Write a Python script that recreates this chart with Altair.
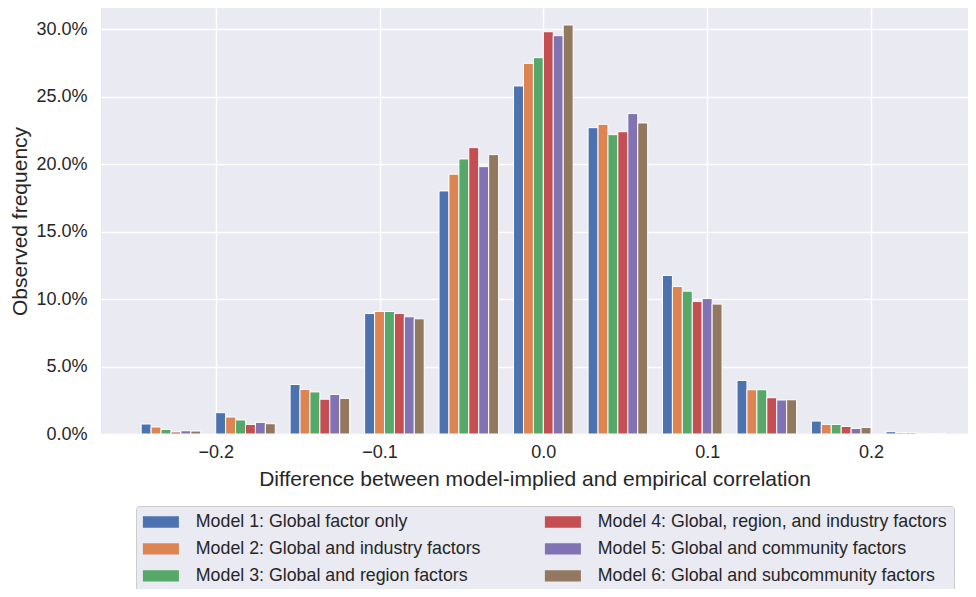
import altair as alt
import pandas as pd

# Histogram bin centres (11 bins between -0.25 and 0.25)
bin_centers = [-0.2273, -0.1818, -0.1364, -0.0909, -0.0455, 0.0, 0.0455, 0.0909, 0.1364, 0.1818, 0.2273]
bin_width = 0.04545

models = [
    "Model 1: Global factor only",
    "Model 2: Global and industry factors",
    "Model 3: Global and region factors",
    "Model 4: Global, region, and industry factors",
    "Model 5: Global and community factors",
    "Model 6: Global and subcommunity factors",
]
colors = ["#4C72B0", "#DD8452", "#55A868", "#C44E52", "#8172B3", "#937860"]

# Observed frequency in percent
m1 = [0.74, 1.58, 3.67, 8.93, 18.02, 25.80, 22.71, 11.75, 3.97, 0.96, 0.17]
m2 = [0.52, 1.26, 3.30, 9.08, 19.26, 27.48, 22.96, 10.93, 3.28, 0.71, 0.10]
m3 = [0.34, 1.04, 3.12, 9.08, 20.39, 27.90, 22.19, 10.59, 3.28, 0.71, 0.10]
m4 = [0.15, 0.71, 2.58, 8.93, 21.23, 29.82, 22.41, 9.82, 2.69, 0.56, 0.05]
m5 = [0.24, 0.86, 2.93, 8.69, 19.82, 29.53, 23.75, 10.04, 2.52, 0.41, 0.03]
m6 = [0.22, 0.76, 2.64, 8.54, 20.71, 30.32, 23.06, 9.63, 2.54, 0.49, 0.04]
series = [m1, m2, m3, m4, m5, m6]

x_ticks = [-0.2, -0.1, 0.0, 0.1, 0.2]
y_ticks = [0.0, 0.05, 0.10, 0.15, 0.20, 0.25, 0.30]

rows = []
for i, (name, vals) in enumerate(zip(models, series)):
    for c, v in zip(bin_centers, vals):
        rows.append({"model": name, "idx": i, "center": c, "freq": v / 100.0})
df = pd.DataFrame(rows)

FONT = "Liberation Sans"
TXT = "#262626"
group = 0.8 * bin_width

chart = (
    alt.Chart(df)
    .transform_calculate(
        x0=f"datum.center - {group/2} + datum.idx * {group/6}",
        x1=f"datum.center - {group/2} + (datum.idx + 1) * {group/6}",
    )
    .mark_bar(stroke="white", strokeWidth=1)
    .encode(
        x=alt.X(
            "x0:Q",
            scale=alt.Scale(domain=[-0.27, 0.2592], nice=False, zero=False),
            axis=alt.Axis(values=x_ticks, format=".1f",
                          title="Difference between model-implied and empirical correlation",
                          labelPadding=9, titlePadding=7),
        ),
        x2="x1:Q",
        y=alt.Y(
            "freq:Q",
            scale=alt.Scale(domain=[0, 0.3158], nice=False),
            axis=alt.Axis(values=y_ticks, format=".1%", title="Observed frequency",
                          labelPadding=14, titlePadding=5),
        ),
        y2=alt.datum(0),
        color=alt.Color(
            "model:N",
            scale=alt.Scale(domain=models, range=colors),
            legend=alt.Legend(
                title=None,
                orient="none",
                legendX=35,
                legendY=498,
                columns=2,
                columnPadding=63,
                rowPadding=8,
                padding=7,
                symbolType="M-3,-0.95L3,-0.95L3,0.95L-3,0.95Z",
                symbolSize=144,
                symbolOffset=9,
                symbolStrokeWidth=0,
                symbolOpacity=1,
                labelOffset=26,
                labelFont=FONT,
                labelFontSize=17.8,
                labelColor=TXT,
                labelLimit=500,
                fillColor="#EAEAF2",
                strokeColor="#CCCCCC",
                cornerRadius=3,
            ),
        ),
    )
    .properties(
        width=867,
        height=426,
        autosize=alt.AutoSizeParams(type="none"),
        padding={"left": 93, "top": 0, "right": 0, "bottom": 155},
    )
    .configure_view(fill="#EAEAF2", strokeWidth=0)
    .configure_axis(
        domain=False,
        ticks=False,
        grid=True,
        gridColor="white",
        gridWidth=1.5,
        labelFont=FONT,
        labelFontSize=18,
        labelColor=TXT,
        titleFont=FONT,
        titleFontSize=21,
        titleFontWeight="normal",
        titleColor=TXT,
    )
)

chart.save("out.html", embed_options={"renderer": "svg", "actions": False})
